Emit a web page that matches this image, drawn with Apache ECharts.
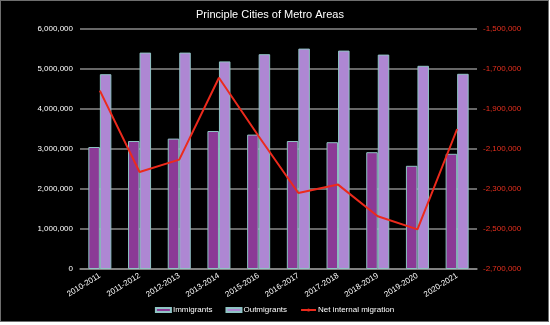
<!DOCTYPE html>
<html>
<head>
<meta charset="utf-8">
<script src="https://cdn.jsdelivr.net/npm/echarts@6/dist/echarts.min.js"></script>
<style>
  html, body { margin: 0; padding: 0; background: #ffffff; }
  #frame { position: absolute; left: 0; top: 0; width: 547px; height: 320px; border: 1px solid #6e6e6e; background: #000; }
  #chart { width: 547px; height: 320px; }
</style>
</head>
<body>
<div id="frame"><div id="chart"></div></div>
<script>
const categories = ['2010-2011','2011-2012','2012-2013','2013-2014','2015-2016','2016-2017','2017-2018','2018-2019','2019-2020','2020-2021'];
const immigrants = [3050000, 3200000, 3260000, 3450000, 3360000, 3200000, 3170000, 2920000, 2580000, 2880000];
const outmigrants = [4870000, 5410000, 5410000, 5190000, 5370000, 5510000, 5460000, 5360000, 5080000, 4880000];
const netMigration = [-1808000, -2215000, -2153000, -1744000, -2036000, -2320000, -2278000, -2436000, -2502000, -2000000];
const leftTicks = [0, 1000000, 2000000, 3000000, 4000000, 5000000, 6000000];
const rightTicks = [-2700000, -2500000, -2300000, -2100000, -1900000, -1700000, -1500000];

const fmt = v => Math.round(v).toLocaleString('en-US');
const FONT = '"Liberation Sans", Arial, sans-serif';

const chart = echarts.init(document.getElementById('chart'), null, { renderer: 'canvas' });
chart.setOption({
  backgroundColor: '#000000',
  animation: false,
  textStyle: { fontFamily: FONT },
  title: {
    text: 'Principle Cities of Metro Areas',
    left: 264, top: 3, textAlign: 'center',
    textStyle: { color: '#ffffff', fontSize: 11, fontWeight: 'normal', fontFamily: FONT }
  },
  legend: {
    bottom: 2, left: 'center',
    itemWidth: 15, itemHeight: 4, itemGap: 13,
    textStyle: { color: '#ffffff', fontSize: 8, fontFamily: FONT, padding: [0, 0, 0, -3] },
    data: [
      { name: 'Immigrants', icon: 'rect' },
      { name: 'Outmigrants', icon: 'rect' },
      { name: 'Net internal migration' }
    ]
  },
  grid: { left: 79, right: 71, top: 28, bottom: 52, containLabel: false },
  xAxis: {
    type: 'category',
    data: categories,
    axisLine: { lineStyle: { color: '#8a8a8a', width: 1.5 } },
    axisTick: { show: false },
    axisLabel: { color: '#ffffff', fontSize: 8, rotate: 32, margin: 6, interval: 0, fontFamily: FONT }
  },
  yAxis: [
    {
      type: 'value', min: 0, max: 6000000, interval: 1000000,
      axisLine: { show: false }, axisTick: { show: false },
      axisLabel: { color: '#ffffff', fontSize: 8, margin: 7, formatter: v => fmt(v), fontFamily: FONT,
                   customValues: leftTicks },
      splitLine: { lineStyle: { color: '#8a8a8a', width: 1.5 } }
    },
    {
      type: 'value', min: -2700000, max: -1500000,
      position: 'right',
      axisLine: { show: false }, axisTick: { show: false },
      axisLabel: { color: '#e8301f', fontSize: 8, margin: 6, formatter: v => fmt(v), fontFamily: FONT,
                   customValues: rightTicks },
      splitLine: { show: false }
    }
  ],
  series: [
    {
      name: 'Immigrants', type: 'bar', data: immigrants, yAxisIndex: 0,
      barGap: '0%', barCategoryGap: '42%',
      itemStyle: { color: '#8b3a96', borderColor: '#8fc4c4', borderWidth: 1 }
    },
    {
      name: 'Outmigrants', type: 'bar', data: outmigrants, yAxisIndex: 0,
      barGap: '0%', barCategoryGap: '42%',
      itemStyle: { color: '#ae87d3', borderColor: '#8fc4c4', borderWidth: 1 }
    },
    {
      name: 'Net internal migration', type: 'line', data: netMigration, yAxisIndex: 1,
      symbol: 'none', lineStyle: { color: '#ec2a1c', width: 2 }, itemStyle: { color: '#ec2a1c' }
    }
  ]
});
</script>
</body>
</html>
